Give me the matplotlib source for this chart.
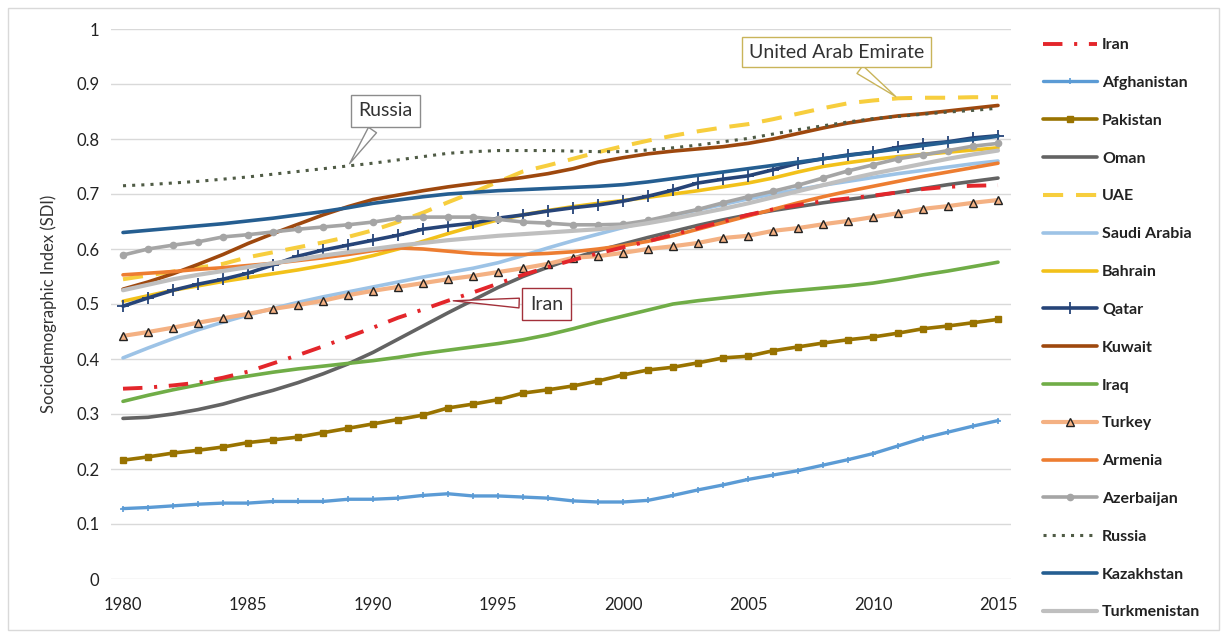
import matplotlib
matplotlib.use("Agg")
import matplotlib.pyplot as plt
from matplotlib.patches import Rectangle

plt.rcParams['font.family'] = ['Lato', 'DejaVu Sans']

years = list(range(1980, 2016))

iran = [.346, .348, .352, .357, .366, .377, .392, .407, .423, .440, .457, .475, .490, .506, .521, .537,
        .553, .567, .580, .592, .603, .614, .626, .638, .650, .662, .672, .680, .687, .692, .697,
        .703, .709, .713, .715, .716]
afghanistan = [.128, .130, .133, .136, .138, .138, .141, .141, .141, .145, .145, .147, .152, .155, .151, .151,
               .149, .147, .142, .140, .140, .143, .152, .162, .171, .181, .189, .197, .207, .217, .228,
               .242, .256, .267, .278, .288]
pakistan = [.216, .222, .229, .234, .240, .248, .253, .258, .266, .274, .282, .290, .298, .311, .318, .326,
            .338, .344, .351, .360, .371, .380, .385, .393, .402, .405, .415, .422, .429, .435, .440,
            .447, .455, .460, .466, .472]
oman = [.292, .294, .300, .308, .318, .331, .343, .357, .373, .391, .412, .436, .460, .484, .507, .530,
        .550, .567, .583, .597, .609, .621, .632, .643, .653, .662, .670, .677, .684, .690, .696,
        .703, .710, .717, .723, .729]
uae = [.545, .552, .559, .566, .573, .585, .594, .603, .612, .622, .634, .649, .666, .685, .703, .722,
       .741, .752, .764, .776, .787, .797, .806, .814, .821, .827, .836, .846, .856, .865, .870,
       .874, .875, .875, .876, .876]
saudi = [.402, .420, .437, .453, .467, .480, .492, .503, .513, .522, .531, .540, .549, .557, .565, .575,
         .588, .602, .615, .627, .639, .650, .661, .671, .681, .691, .700, .708, .716, .723, .730,
         .737, .743, .749, .755, .760]
bahrain = [.505, .515, .525, .533, .541, .548, .555, .562, .570, .578, .588, .600, .614, .628, .641, .653,
           .662, .670, .677, .683, .688, .694, .700, .706, .713, .720, .729, .740, .750, .757, .763,
           .768, .772, .776, .780, .784]
qatar = [.496, .511, .525, .536, .545, .556, .571, .587, .598, .607, .616, .625, .636, .642, .647, .656,
         .662, .669, .675, .680, .687, .696, .707, .720, .727, .733, .744, .756, .764, .771, .776,
         .785, .791, .795, .802, .806]
kuwait = [.527, .540, .555, .572, .590, .610, .628, .645, .662, .677, .690, .698, .706, .713, .719, .724,
          .730, .737, .746, .758, .766, .773, .778, .782, .786, .792, .800, .810, .820, .829, .836,
          .842, .846, .851, .856, .861]
iraq = [.323, .334, .344, .353, .362, .369, .376, .382, .387, .392, .397, .403, .410, .416, .422, .428,
        .435, .444, .455, .467, .478, .489, .500, .506, .511, .516, .521, .525, .529, .533, .538,
        .545, .553, .560, .568, .576]
turkey = [.442, .449, .457, .466, .474, .482, .491, .498, .506, .516, .524, .531, .538, .545, .551, .558,
          .565, .573, .584, .587, .593, .600, .605, .611, .620, .624, .633, .638, .645, .651, .658,
          .665, .673, .678, .684, .689]
armenia = [.553, .556, .559, .563, .566, .570, .574, .579, .584, .590, .597, .602, .600, .596, .592, .590,
           .590, .592, .595, .600, .606, .614, .624, .636, .648, .660, .672, .684, .695, .705, .714,
           .723, .732, .740, .748, .756]
azerbaijan = [.589, .600, .607, .613, .622, .626, .631, .636, .640, .644, .649, .656, .658, .658, .658, .654,
              .649, .647, .644, .644, .645, .652, .662, .672, .684, .695, .705, .716, .729, .742, .753,
              .764, .771, .779, .787, .792]
russia = [.715, .717, .720, .723, .727, .731, .736, .741, .746, .751, .756, .762, .768, .774, .777, .779,
          .779, .779, .778, .777, .777, .780, .784, .789, .795, .801, .809, .817, .824, .831, .837,
          .841, .845, .849, .852, .856]
kazakhstan = [.630, .634, .638, .642, .646, .651, .656, .662, .668, .675, .683, .689, .695, .700, .703, .706,
              .708, .710, .712, .714, .717, .722, .728, .734, .740, .746, .752, .758, .764, .770, .776,
              .782, .788, .794, .799, .805]
turkmenistan = [.525, .535, .545, .553, .560, .567, .574, .581, .588, .594, .600, .606, .611, .616, .620, .624,
                .627, .630, .633, .636, .640, .647, .655, .664, .673, .683, .694, .705, .716, .727, .737,
                .746, .755, .764, .772, .779]

x_ticks = [1980, 1985, 1990, 1995, 2000, 2005, 2010, 2015]
y_ticks = [0, 0.1, 0.2, 0.3, 0.4, 0.5, 0.6, 0.7, 0.8, 0.9, 1]
y_ticklabels = ['0', '0.1', '0.2', '0.3', '0.4', '0.5', '0.6', '0.7', '0.8', '0.9', '1']

W, H = 1221, 632
fig = plt.figure(figsize=(W / 100, H / 100), dpi=100)
ax = fig.add_axes([110.5 / W, (H - 579) / H, 900 / W, 550 / H])

series = [
    ('Iran', iran, dict(color='#E3262B', lw=2.8, ls=(0, (5, 3, 0.8, 3)), zorder=3)),
    ('Afghanistan', afghanistan, dict(color='#5B9BD5', lw=2.4, marker='+', ms=5, mew=1.2)),
    ('Pakistan', pakistan, dict(color='#997300', lw=2.6, marker='s', ms=4.5)),
    ('Oman', oman, dict(color='#636363', lw=2.6)),
    ('UAE', uae, dict(color='#F7CE3E', lw=2.9, ls=(0, (5, 3.2)))),
    ('Saudi Arabia', saudi, dict(color='#9DC3E6', lw=2.6)),
    ('Bahrain', bahrain, dict(color='#F2C11A', lw=2.6)),
    ('Qatar', qatar, dict(color='#264478', lw=2.6, marker='+', ms=9, mew=1.3)),
    ('Kuwait', kuwait, dict(color='#9E480E', lw=2.6)),
    ('Iraq', iraq, dict(color='#70AD47', lw=2.6)),
    ('Turkey', turkey, dict(color='#F4B183', lw=3.0, marker='^', ms=5.5, mfc='#F4B183', mec='#222222', mew=1.0)),
    ('Armenia', armenia, dict(color='#ED7D31', lw=2.6)),
    ('Azerbaijan', azerbaijan, dict(color='#A5A5A5', lw=2.6, marker='o', ms=4.5)),
    ('Russia', russia, dict(color='#4F5B45', lw=2.2, ls=(0, (1, 2)))),
    ('Kazakhstan', kazakhstan, dict(color='#255E91', lw=2.6)),
    ('Turkmenistan', turkmenistan, dict(color='#BFBFBF', lw=3.0)),
]

for name, vals, st in series:
    ax.plot(years, vals, label=name, solid_capstyle='round', **st)

ax.set_xlim(1979.5, 2015.5)
ax.set_ylim(0, 1)
ax.set_xticks(x_ticks)
ax.set_xticklabels([str(t) for t in x_ticks])
ax.set_yticks(y_ticks)
ax.set_yticklabels(y_ticklabels)
ax.grid(axis='y', color='#D9D9D9', lw=1.0, zorder=0)
ax.set_axisbelow(True)
for s in ax.spines.values():
    s.set_visible(False)
ax.tick_params(axis='both', length=0, labelsize=12, colors='#222222')
ax.tick_params(axis='x', pad=13)
ax.tick_params(axis='y', pad=8)
ax.set_ylabel('Sociodemographic Index (SDI)', fontsize=12, color='#333333', labelpad=14)

# Callouts
ax.annotate('Russia', xy=(1989, russia[9]), xytext=(1990.5, 0.851),
            fontsize=14, color='#333333', ha='center', va='center',
            bbox=dict(boxstyle='square,pad=0.4', fc='white', ec='#8C8C8C', lw=1.0),
            arrowprops=dict(arrowstyle='wedge,tail_width=0.5,shrink_factor=0.5', fc='white', ec='#8C8C8C', lw=1.0),
            zorder=10)
ax.annotate('United Arab Emirate', xy=(2011, uae[31]), xytext=(2008.55, 0.958),
            fontsize=14, color='#333333', ha='center', va='center',
            bbox=dict(boxstyle='square,pad=0.35', fc='white', ec='#C9B45A', lw=1.0),
            arrowprops=dict(arrowstyle='wedge,tail_width=0.5,shrink_factor=0.5', fc='white', ec='#C9B45A', lw=1.0),
            zorder=10)
ax.annotate('Iran', xy=(1993.1, iran[13]), xytext=(1996.95, 0.50),
            fontsize=14, color='#333333', ha='center', va='center',
            bbox=dict(boxstyle='square,pad=0.4', fc='white', ec='#A3303A', lw=1.0),
            arrowprops=dict(arrowstyle='wedge,tail_width=0.5,shrink_factor=0.5', fc='white', ec='#A3303A', lw=1.0),
            zorder=10)

handles, labels = ax.get_legend_handles_labels()
leg = fig.legend(handles, labels, loc='upper left', bbox_to_anchor=(1043 / W, 1 - 38 / H),
                 frameon=False, fontsize=11.5, labelspacing=1.48, handlelength=3.4,
                 handletextpad=0.3, borderpad=0, borderaxespad=0, numpoints=1)
for t in leg.get_texts():
    t.set_fontweight('bold')
    t.set_color('#222222')

fig.patches.append(Rectangle((8 / W, 2 / H), 1 - 10 / W, 1 - 10 / H, transform=fig.transFigure,
                             fill=False, ec='#D9D9D9', lw=1.0))

fig.savefig('out.png', dpi=100)
